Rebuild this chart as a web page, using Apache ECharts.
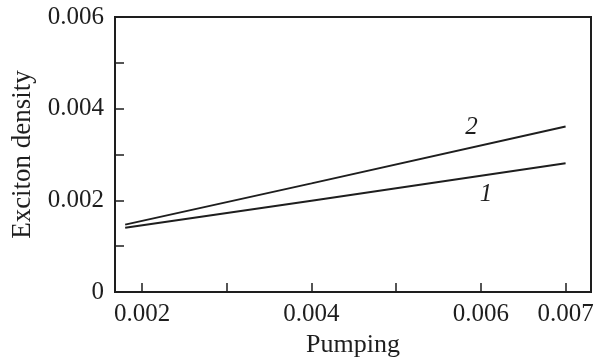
<!DOCTYPE html>
<html>
<head>
<meta charset="utf-8">
<script src="https://cdn.jsdelivr.net/npm/echarts@6/dist/echarts.min.js"></script>
<style>
	html, body { margin: 0; padding: 0; background: #fff; }
	#main { width: 596px; height: 360px; }
</style>
</head>
<body>
<div id="main"></div>
<script>
// pumping values (x) and exciton density of both curves
var pumping = [0.0018, 0.004, 0.007];
var curve1 = [0.00140, 0.00199, 0.00281];
var curve2 = [0.00147, 0.00237, 0.00361];
var xTicks = [0.002, 0.003, 0.004, 0.005, 0.006, 0.007];
var xLabels = [0.002, 0.004, 0.006, 0.007];
var yLabels = [0, 0.002, 0.004, 0.006];
// where the curve numbers sit
var tag1 = [0.00606, 0.00212];
var tag2 = [0.00589, 0.00358];

var ink = '#1e1e1e';
var font = 'Liberation Serif';

function pairs(xs, ys) {
	return xs.map(function(x, i) { return [x, ys[i]]; });
}

function tagPoint(txt, pos) {
	return {
		symbol: 'circle',
		symbolSize: 2,
		silent: true,
		itemStyle: { color: 'rgba(0,0,0,0)' },
		label: {
			show: true,
			position: 'inside',
			formatter: txt,
			color: ink,
			fontFamily: font,
			fontStyle: 'italic',
			fontSize: 25
		},
		data: [{ coord: pos, value: txt }]
	};
}

function fmt(v) {
	return v === 0 ? '0' : v.toFixed(3);
}

var chart = echarts.init(document.getElementById('main'));
var option = {
	animation: false,
	grid: {
		left: 115, right: 5, top: 17, bottom: 68,
		outerBoundsMode: 'none',
		containLabel: false,
		show: true,
		borderColor: ink,
		borderWidth: 2
	},
	xAxis: {
		type: 'value',
		min: 0.00168,
		max: 0.0073,
		name: 'Pumping',
		nameLocation: 'middle',
		nameGap: 37,
		nameTextStyle: { fontFamily: font, fontSize: 26, color: ink },
		splitLine: { show: false },
		axisLine: { lineStyle: { color: ink, width: 2 } },
		axisTick: { inside: true, length: 9, customValues: xTicks, lineStyle: { color: ink, width: 1.5 } },
		axisLabel: {
			customValues: xLabels,
			formatter: fmt,
			margin: 10,
			fontFamily: font, fontSize: 25, color: ink
		}
	},
	yAxis: {
		type: 'value',
		min: 0,
		max: 0.006,
		interval: 0.001,
		name: 'Exciton density',
		nameLocation: 'middle',
		nameGap: 79,
		nameTextStyle: { fontFamily: font, fontSize: 27, color: ink },
		splitLine: { show: false },
		axisLine: { lineStyle: { color: ink, width: 2 } },
		axisTick: { inside: true, length: 9, lineStyle: { color: ink, width: 1.5 } },
		axisLabel: {
			customValues: yLabels,
			formatter: fmt,
			margin: 11,
			fontFamily: font, fontSize: 25, color: ink
		}
	},
	series: [{
		name: '1',
		type: 'line',
		data: pairs(pumping, curve1),
		symbol: 'none',
		lineStyle: { color: ink, width: 2 },
		markPoint: tagPoint('1', tag1)
	}, {
		name: '2',
		type: 'line',
		data: pairs(pumping, curve2),
		symbol: 'none',
		lineStyle: { color: ink, width: 2 },
		markPoint: tagPoint('2', tag2)
	}]
};
chart.setOption(option);
</script>
</body>
</html>
